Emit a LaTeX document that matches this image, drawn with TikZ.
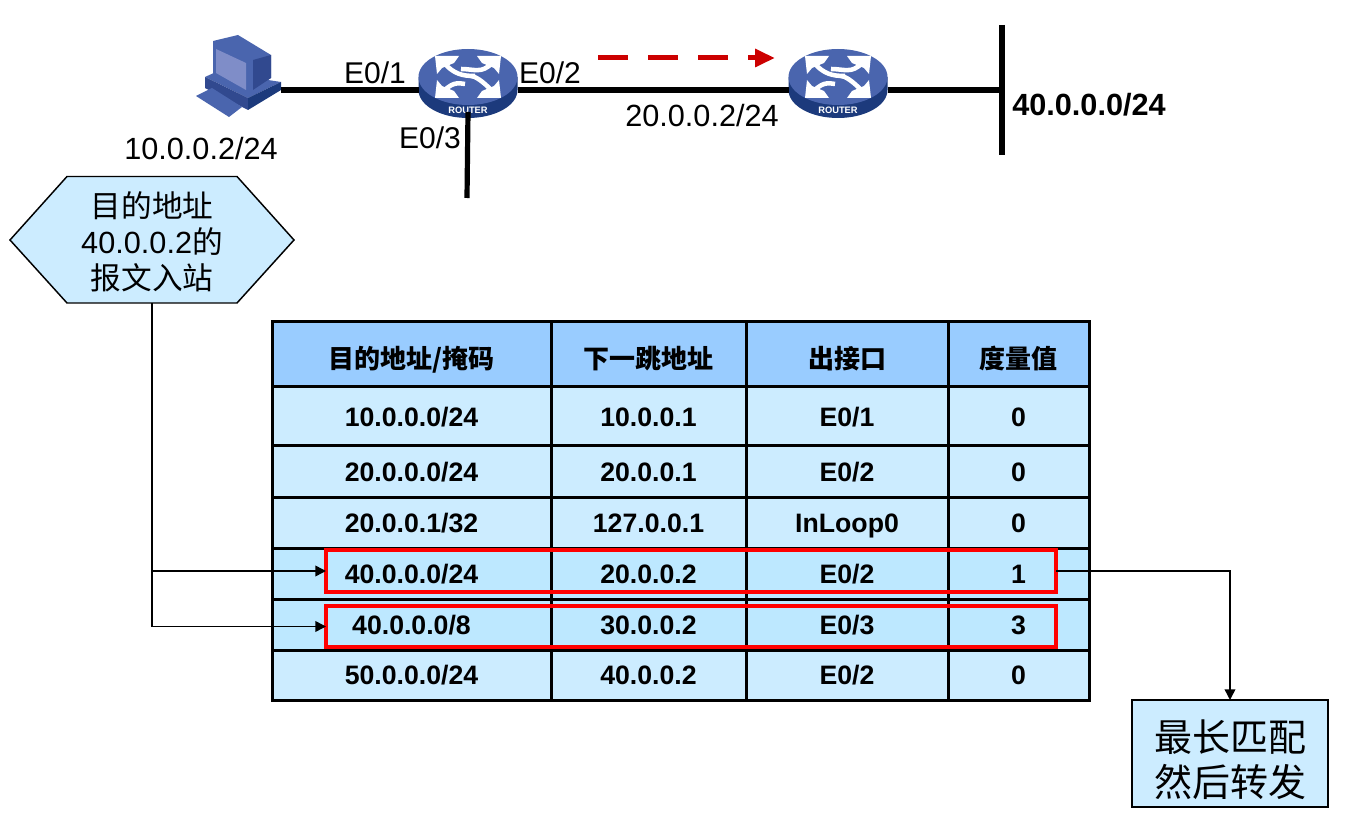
\documentclass[tikz,border=0pt]{standalone}
\usepackage{fontspec}
\setmainfont{Liberation Sans}
\newfontfamily\cjk{Noto Sans CJK SC}
\usetikzlibrary{positioning,arrows.meta,shapes.geometric}
\definecolor{headblue}{HTML}{99CCFF}
\definecolor{rowblue}{HTML}{CCECFF}
\definecolor{hitblue}{HTML}{BDE8FF}
\definecolor{iconblue}{HTML}{4A65AE}
\definecolor{icondark}{HTML}{1C3A7C}
\definecolor{iconmid}{HTML}{31498F}
\definecolor{iconlight}{HTML}{7F8DC8}
\definecolor{dashred}{HTML}{CC0000}
\tikzset{
	netline/.style={line width=3.9pt},
	thinline/.style={line width=1.1pt},
	hitarrow/.style={thinline,-{Triangle[length=8pt,width=8pt]}},
	cellbox/.style={draw,line width=2.25pt,inner sep=0pt,outer sep=0pt,text depth=0pt,text height=14.4pt,font=\fontsize{20}{24}\selectfont\bfseries},
	hitbox/.style={draw=red,line width=2.6pt,inner sep=0pt,outer sep=0pt},
	portlabel/.style={font=\fontsize{22.5}{26}\selectfont,inner sep=0pt},
	pics/router/.style={code={
		\fill[icondark] (-49.5,0) -- (-49.5,13) arc[start angle=180,end angle=0,x radius=49.5,y radius=28] -- (49.5,0) -- cycle;
		\fill[iconblue] (0,0) ellipse[x radius=49.5,y radius=28];
		\foreach \sx/\sy/\ex/\ey in {-1/-1/7/-1, 1/-1/-7/-8, -1/1/-3/7, 1/1/3/-1}{
			\fill[white] (\sx*33,\sy*21) -- (\sx*9,\sy*21) -- (\sx*14,\sy*14) -- (\sx*26,\sy*9) -- (\sx*31,\sy*3) -- cycle;
			\draw[white,line width=3.4pt] (\sx*24,\sy*14) .. controls (\sx*14,\sy*3) and (\sx*6,\ey) .. (\ex,\ey);
		}
		\node[text=white,inner sep=0pt,font=\fontsize{7}{8}\selectfont\bfseries] (-label) at (0,33) {ROUTER};
		\coordinate (-w) at (-49.5,13);
		\coordinate (-e) at (49.5,13);
		\coordinate (-s) at (0,35);
	}},
	pics/host/.style={code={
		\fill[iconblue] (-33,2) -- (-22,-3) -- (43,7) -- (10,23) -- cycle;
		\fill[iconmid] (-33,2) -- (10,23) -- (10,35) -- (-33,13) -- cycle;
		\fill[icondark] (10,23) -- (43,7) -- (43,15) -- (10,35) -- cycle;
		\fill[iconblue] (-42,21) -- (-26,13) -- (4,32) -- (-9,42) -- cycle;
		\fill[iconblue] (-25,-34) -- (0,-40) -- (33,-20) -- (33,3) -- (12,17) -- (-25,0) -- cycle;
		\fill[iconmid] (15,-15) -- (33,-20) -- (33,3) -- (15,15) -- cycle;
		\fill[iconlight] (-22,-26) -- (8,-12) -- (8,15) -- (-22,-2) -- cycle;
		\coordinate (-e) at (43,15);
	}},
}
\begin{document}
\begin{tikzpicture}[x=0.75pt,y=-0.75pt]
	\useasboundingbox (0,0) rectangle (1347,827);
	% network
	\pic (hostA) at (238,75) {host};
	\pic (rtrA) at (468,77) {router};
	\pic (rtrB) at (838,77) {router};
	\coordinate (stubEnd) at (467,198);
	\coordinate (lanTop) at (1002,25);
	\coordinate (lanBot) at (1002,155);
	\coordinate (lanJoin) at (1002,90);
	\coordinate (flowStart) at (598,58);
	\coordinate (flowEnd) at (775,58);
	\draw[netline] (hostA-e) -- (rtrA-w);
	\draw[netline] (rtrA-e) -- (rtrB-w);
	\draw[netline] (rtrA-s) -- (stubEnd);
	\draw[netline] (rtrB-e) -- (lanJoin);
	\draw[netline] (lanTop) -- (lanBot);
	\draw[dashred,line width=3.75pt,dash pattern=on 22.5pt off 15pt,-{Triangle[length=15pt,width=13pt]}] (flowStart) -- (flowEnd);
	\node[portlabel] (portA) at (375,73) {E0/1};
	\node[portlabel] (portB) at (550,73) {E0/2};
	\node[portlabel] (portC) at (430,138) {E0/3};
	\node[portlabel,font=\fontsize{23}{27}\selectfont] (hostAddr) at (201,149) {10.0.0.2/24};
	\node[portlabel,font=\fontsize{23}{27}\selectfont] (nextAddr) at (702,116) {20.0.0.2/24};
	\node[portlabel,font=\fontsize{23}{27}\selectfont\bfseries] (lanAddr) at (1089,105) {40.0.0.0/24};
	% packet
	\filldraw[fill=rowblue,line width=1.1pt] (10,240) -- (67,176.5) -- (237,176.5) -- (294,240) -- (237,303) -- (67,303) -- cycle;
	\node[inner sep=0pt,outer sep=0pt,minimum height=92.25pt,align=center,font=\fontsize{23}{27}\selectfont] (pktBox) at (152,242) {{\cjk 目的地址}\\40.0.0.2{\cjk 的}\\{\cjk 报文入站}};
	% table
	\foreach \rowid/\ya/\yb/\rowfill/\ca/\cb/\cc/\cd in {
		a/387/446/rowblue/10.0.0.0\slash 24/10.0.0.1/E0\slash 1/0,
		b/446/497/rowblue/20.0.0.0\slash 24/20.0.0.1/E0\slash 2/0,
		c/497/548/rowblue/20.0.0.1\slash 32/127.0.0.1/InLoop0/0,
		d/548/599/hitblue/40.0.0.0\slash 24/20.0.0.2/E0\slash 2/1,
		e/599/650/hitblue/40.0.0.0\slash 8/30.0.0.2/E0\slash 3/3,
		f/650/700/rowblue/50.0.0.0\slash 24/40.0.0.2/E0\slash 2/0}{
		\foreach \colid/\xa/\xb/\txt in {1/272/551/\ca,2/551/746/\cb,3/746/948/\cc,4/948/1089/\cd}{
			\node[cellbox,fill=\rowfill,minimum width={(\xb-\xa)*0.75pt},minimum height={(\yb-\ya)*0.75pt}] (cell\rowid\colid) at ({(\xa+\xb)/2},{(\ya+\yb)/2}) {\txt};
		}
	}
	\foreach \colid/\xa/\xb/\txt in {1/272/551/{目的地址/掩码},2/551/746/{下一跳地址},3/746/948/{出接口},4/948/1089/{度量值}}{
		\node[cellbox,fill=headblue,font=\fontsize{19.5}{24}\cjk\bfseries,text height=21pt,minimum width={(\xb-\xa)*0.75pt},minimum height=48.75pt] (head\colid) at ({(\xa+\xb)/2},354.5) {\txt};
	}
	% match
	\node[hitbox,minimum width=547.5pt,minimum height=31.5pt] (hitA) at (691,571) {};
	\node[hitbox,minimum width=547.5pt,minimum height=30.75pt] (hitB) at (691,626.5) {};
	\node[draw,fill=rowblue,line width=1.1pt,inner sep=0pt,outer sep=0pt,minimum width=147pt,minimum height=80.25pt,align=center,font=\fontsize{28.5}{33.5}\cjk] (resultBox) at (1230,753.5) {\rule{0pt}{33pt}最长匹配\\然后转发};
	\draw[hitarrow] (pktBox.south) |- (hitA.west);
	\draw[hitarrow] (pktBox.south) |- (hitB.west);
	\draw[hitarrow] (hitA.east) -| (resultBox.north);
\end{tikzpicture}
\end{document}
